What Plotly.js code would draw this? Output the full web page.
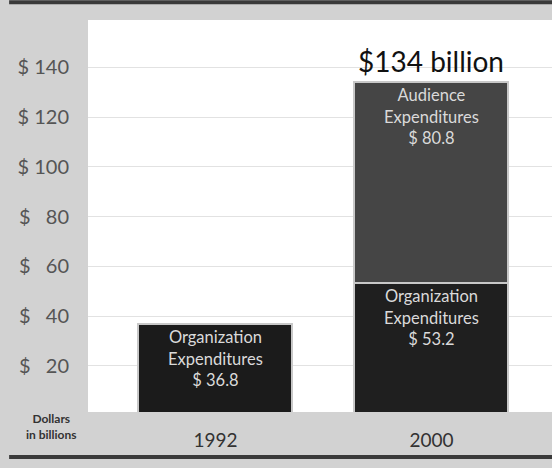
<!DOCTYPE html>
<html>
<head>
<meta charset="utf-8">
<script src="https://cdn.plot.ly/plotly-3.0.1.min.js"></script>
<style>html,body{margin:0;padding:0;background:#d2d2d2;}#chart{width:552px;height:468px;}</style>
</head>
<body>
<div id="chart"></div>
<script>
const years = ["1992", "2000"];
const organization = [36.8, 53.2];
const audience = [null, 80.8];
const tickVals = [20, 40, 60, 80, 100, 120, 140];
const tickText = ["$\u2002 20", "$\u2002 40", "$\u2002 60", "$\u2002 80", "$ 100", "$ 120", "$ 140"];

const orgText = organization.map(v => "Organization<br>Expenditures<br>$ " + v.toFixed(1));
const audText = audience.map(v => v == null ? "" : "Audience<br>Expenditures<br>$ " + v.toFixed(1));
const totals = years.map((y, i) => (organization[i] || 0) + (audience[i] || 0));

const font = "Lato, 'Open Sans', sans-serif";

const traces = [
  {
    type: "bar", x: [0, 1], y: organization, width: 0.713,
    marker: {color: ["#1b1b1b", "#1f1f1f"], line: {color: "#c8c8c8", width: 2}},
    text: orgText, textposition: "inside", insidetextanchor: "end",
    textfont: {family: font, size: 16.5, color: "#dadada"},
    hoverinfo: "skip"
  },
  {
    type: "bar", x: [0, 1], y: audience, width: 0.713,
    marker: {color: "#454545", line: {color: "#c8c8c8", width: 2}},
    text: audText, textposition: "inside", insidetextanchor: "end",
    textfont: {family: font, size: 16.5, color: "#dadada"},
    hoverinfo: "skip"
  }
];

const layout = {
  width: 552, height: 468,
  margin: {l: 88, r: 0, t: 20, b: 56},
  paper_bgcolor: "#d2d2d2",
  plot_bgcolor: "#ffffff",
  barmode: "stack",
  showlegend: false,
  font: {family: font},
  xaxis: {
    range: [-0.59, 1.558],
    tickvals: [0, 1], ticktext: years,
    ticks: "outside", ticklen: 11, tickcolor: "rgba(0,0,0,0)",
    tickfont: {family: font, size: 19, color: "#333333"},
    showgrid: false, zeroline: false, showline: false, fixedrange: true
  },
  yaxis: {
    range: [1.5, 159],
    tickvals: tickVals, ticktext: tickText,
    ticks: "outside", ticklen: 14, tickcolor: "rgba(0,0,0,0)",
    tickfont: {family: font, size: 20, color: "#555555"},
    showgrid: true, gridcolor: "#e2e2e2", gridwidth: 1,
    zeroline: false, showline: false, fixedrange: true
  },
  annotations: [
    {
      x: 1, y: totals[1], xref: "x", yref: "y", yanchor: "bottom", yshift: 2,
      text: "$" + totals[1].toFixed(0) + " billion", showarrow: false,
      font: {family: font, size: 28, color: "#111111"}
    },
    {
      x: -0.078, y: -0.038, xref: "paper", yref: "paper",
      xanchor: "center", yanchor: "middle",
      text: "<b>Dollars<br>in billions</b>", showarrow: false,
      font: {family: font, size: 12, color: "#333333"}
    }
  ],
  shapes: [
    {type: "line", xref: "paper", yref: "paper", x0: -0.17, x1: 1.01, y0: 1.045, y1: 1.045,
     line: {color: "#3a3a3a", width: 4}},
    {type: "line", xref: "paper", yref: "paper", x0: -0.17, x1: 1.01, y0: -0.115, y1: -0.115,
     line: {color: "#3a3a3a", width: 4}}
  ]
};

Plotly.newPlot("chart", traces, layout, {displayModeBar: false, staticPlot: true});
</script>
</body>
</html>
